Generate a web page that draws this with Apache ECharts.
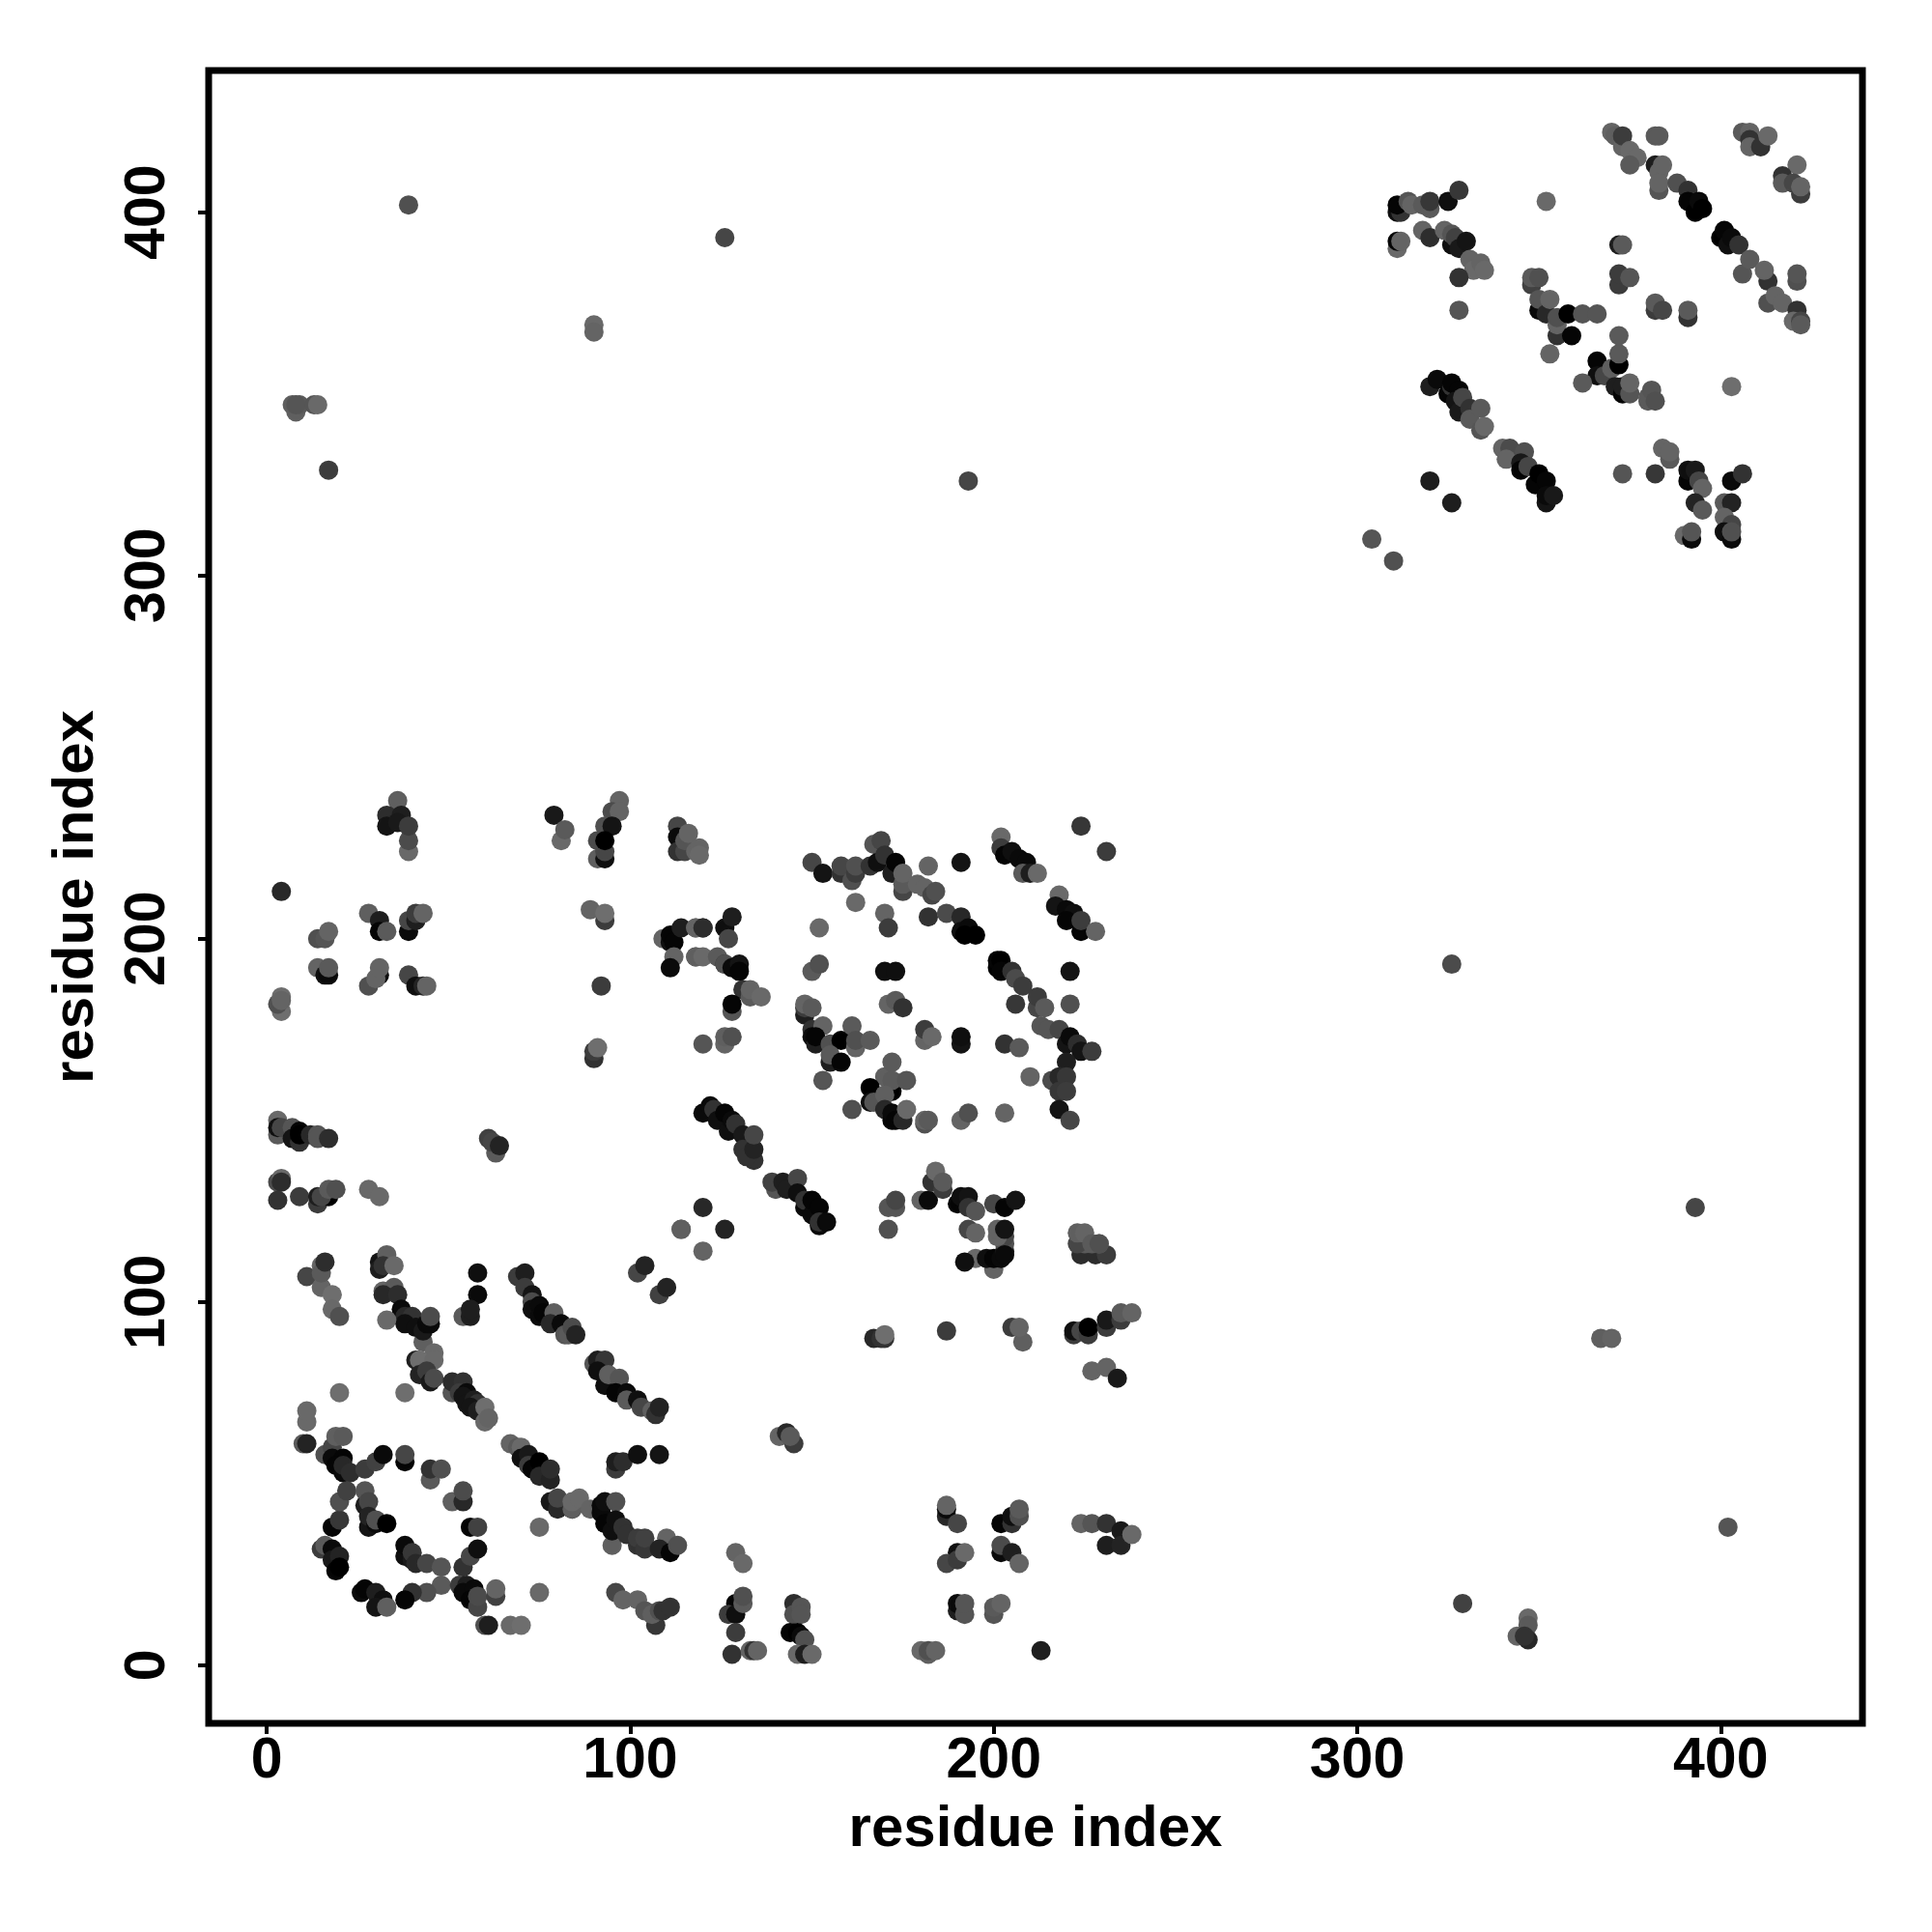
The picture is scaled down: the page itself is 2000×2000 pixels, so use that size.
<!DOCTYPE html>
<html><head><meta charset="utf-8">
<script src="https://cdn.jsdelivr.net/npm/echarts@6/dist/echarts.min.js"></script>
<style>html,body{margin:0;background:#fff}#c{width:2000px;height:2000px}</style></head>
<body><div id="c"></div>
<script>
// each contact: [residue index, residue index, grey level]
const tickValues=[0,100,200,300,400];
const axisTitle="residue index";
const lowLeftA=[[11,107,70],[15,104,100],[18,102,110],[18,98,105],[20,96,80],[15,110,100],[15,108,90],[16,111,45],
[31,111,20],[31,109,30],[33,113,95],[32,110,50],[35,110,105],[32,103,100],[35,104,90],[32,102,40],[36,102,45],[37,96,10],[37,98,10],[38,96,40],[40,96,50],[38,94,15],[41,93,15],[43,89,95],[43,92,25],[44,94,10],[45,94,10],[45,96,75],[33,95,105],
[46,86,105],[41,84,30],[42,84,110],[46,84,105],[42,80,35],[44,81,60],[45,78,25],[46,79,75],
[51,75,85],[51,78,45],[54,78,50],[53,75,60],[55,75,10],[54,74,20],[55,72,20],[57,73,30],[58,72,50],[56,71,20],[58,70,30],[60,67,105],[60,71,110],[61,68,100],
[20,75,110],[38,75,110],[11,67,105],[11,70,105],[10,61,90],[11,61,35]];
const lowLeftB=[[16,58,80],[18,60,70],[19,63,95],[21,63,90],[18,57,10],[21,57,5],[19,55,5],[21,53,10],[21,55,40],[23,53,45],[27,54,60],[30,56,65],[32,58,10],
[38,56,5],[38,58,70],[45,51,90],[45,54,50],[48,54,80],[51,45,95],[54,45,40],[54,48,75],
[18,38,5],[20,40,55],[20,45,80],[22,48,65],[27,44,30],[27,48,85],[28,45,70],[28,38,20],[28,41,35],[30,39,10],[30,40,80],[33,39,0],
[56,38,5],[58,38,65],[75,38,105],[54,27,50],[56,30,70],[58,32,15],
[15,32,60],[16,33,90],[18,32,10],[18,29,25],[20,30,35],[19,26,5],[20,27,0],
[38,30,15],[38,33,10],[40,29,25],[40,31,55],[41,28,40],[44,28,70],[48,27,85],
[48,22,90],[44,20,80],[40,20,50],[38,18,5],[53,22,60],[55,22,30],[54,20,10],[57,21,10],[56,18,5],[58,16,70],[58,19,75],[63,19,65],[63,21,100],
[26,20,10],[27,21,5],[30,20,30],[32,18,15],[30,16,20],[33,16,95],[60,11,80],[61,11,30],[67,11,105],[70,11,110],[75,20,105],
[96,20,70],[98,18,100],[102,18,100],[104,15,85],[107,11,55],[106,14,95],[108,15,80],[109,15,50],[111,16,50]];
const lowDiagonals=[[69,107,60],[71,108,30],[71,104,60],[73,102,20],[73,100,75],[73,98,15],[75,99,10],[75,96,10],[76,97,5],[79,97,95],[78,94,40],[81,94,10],[82,91,85],[83,91,90],[84,93,75],[85,91,35],
[58,108,15],[58,102,10],[54,96,90],[56,96,30],[56,98,30],[102,108,70],[104,110,35],[108,102,65],[110,104,35],
[90,83,85],[91,84,30],[93,84,55],[91,81,15],[93,77,15],[94,80,95],[97,79,85],[96,75,5],[99,75,10],[99,73,90],[102,73,15],[103,71,70],[106,70,95],[107,69,50],[108,71,35],
[67,61,100],[69,60,90],[70,60,105],[70,57,15],[72,58,25],[72,55,60],[73,54,5],[75,56,0],[75,52,40],[78,51,35],[78,54,45],
[78,45,25],[80,43,40],[80,46,70],[84,43,25],[84,43,95],[84,45,105],[86,46,105],[89,43,100],
[92,42,10],[92,44,10],[93,39,5],[93,45,15],[95,33,95],[96,45,80],[95,37,15],[96,40,15],[98,38,50],[99,36,50],[102,33,50],[102,35,60],[104,32,55],[104,35,65],
[110,35,100],[108,32,35],[111,31,5],[113,33,80],[96,54,60],[96,56,30],[98,56,45],[102,58,15],[108,58,20]];
const leftColumn=[[36,238,95],[33,234,45],[37,234,30],[33,231,20],[36,232,25],[39,224,105],[39,227,75],[39,231,60],[4,213,40],
[28,207,95],[31,205,30],[31,202,5],[33,202,90],[39,202,10],[39,205,70],[41,205,30],[41,207,60],[43,207,100],
[14,200,80],[16,200,85],[17,202,100],[14,192,100],[16,190,15],[17,190,10],[17,192,90],
[28,187,80],[31,190,15],[30,189,100],[31,192,100],[39,190,70],[41,187,15],[43,187,35],[44,187,100],
[4,180,110],[3,182,80],[4,184,110],[4,183,100],
[79,234,25],[81,227,105],[82,230,90],[97,238,100],[95,235,75],[97,235,100],[93,231,80],[95,231,20],[91,222,95],[93,222,15],[93,224,70],[91,227,75],[93,227,0],
[89,208,100],[93,205,60],[93,207,110],[92,187,60],[90,167,50],[90,169,60],[91,170,110],
[113,231,70],[113,228,10],[113,224,50],[115,224,70],[115,227,85],[116,229,100],[118,224,100],[119,225,100],[119,223,105],
[109,200,100],[111,199,15],[111,201,5],[112,199,5],[114,203,30],[118,203,100],[120,203,30],[112,195,100],[111,192,10],[118,195,85],[114,120,100],
[3,150,105],[3,146,90],[3,148,15],[4,148,70],[7,148,85],[7,145,20],[9,144,50],[9,147,5],[9,146,0],[12,146,40],[14,146,85],[14,145,85],[17,145,45],
[63,141,90],[61,145,65],[62,144,70],[64,143,35],
[3,133,75],[4,134,105],[4,133,45],[3,128,50],[9,129,60],[14,127,60],[14,129,30],[17,129,0],[15,129,70],[17,131,90],[19,131,80],[28,131,105],[31,129,105]];
const midLower=[[120,114,100],[195,112,105],[192,111,15],[200,109,100],[198,112,15],[200,112,5],[202,112,10],[203,114,25],[203,116,80],[203,118,70],
[224,113,45],[228,113,45],[231,113,60],[229,116,100],[225,116,90],
[167,90,40],[169,90,50],[170,90,50],[170,91,110],[187,92,60],[205,93,60],[208,89,95],[207,93,100],
[222,91,60],[222,92,15],[224,92,70],[226,91,60],[226,93,0],[231,93,60],[231,95,25],[235,95,60],[235,97,90],[238,97,100],[227,81,100],[231,82,100],[234,79,25],
[141,63,100],[143,64,40],[145,61,60],[144,63,90],
[187,41,40],[187,43,10],[187,44,100],[190,39,70],[202,39,5],[205,39,50],[205,41,15],[207,41,80],[207,43,90],
[190,31,15],[187,28,70],[190,29,60],[192,31,105],[202,31,10],[202,33,75],[205,31,30],[207,28,100],
[224,39,100],[227,39,85],[231,39,50],[231,33,30],[235,37,25],[235,33,35],[238,36,105],[129,31,100],[131,28,105],
[129,17,5],[127,14,60],[129,14,15],[131,17,90],[131,19,80],[129,9,60],[128,3,50],[133,4,100],[134,4,50],[135,4,100],
[145,17,45],[145,14,80],[147,16,85],[147,14,85],[144,9,5],[146,9,0],[147,8,10],[148,7,80],[146,3,105],[148,3,30],[150,3,105],
[180,4,105],[182,3,95],[182,4,80],[184,4,100],[213,4,30],
[190,15,30],[190,17,10],[192,14,85],[192,17,85],[200,14,85],[200,16,90],[202,17,100]];
const midRing=[[150,221,70],[153,218,20],[158,218,50],[158,220,70],[161,216,80],[162,218,60],[162,220,80],[166,220,50],[167,226,85],[169,227,70],[168,221,15],[170,223,50],[172,218,30],[173,221,5],[175,213,70],[175,215,90],[175,218,100],[179,215,100],[181,214,100],[183,212,70],[184,213,80],[182,220,100],[191,221,20],
[162,210,105],[170,207,100],[171,203,60],[152,203,105],[182,206,50],[187,207,75],[191,206,40],[191,202,15],[193,203,10],[192,201,0],[195,201,0],
[202,228,105],[202,225,60],[203,223,5],[205,224,15],[207,222,10],[209,221,10],[208,218,90],[210,218,30],[212,218,105],[224,231,55],[231,224,60],
[218,212,105],[217,209,20],[220,208,10],[222,207,15],[220,205,5],[224,202,5],[224,205,60],[228,202,100],
[118,203,100],[120,203,45],[126,203,15],[128,206,30],[127,200,70],[118,195,95],[120,195,105],[124,195,90],[126,193,50],[126,193,80],[128,192,10],[130,193,20],[130,191,5],[131,186,50],[133,184,90],[133,186,100],[136,184,105],[128,180,85],[128,182,5],
[120,171,85],[126,171,100],[126,173,95],[128,173,80],
[150,191,90],[152,193,80],[170,191,15],[173,191,15],[221,191,20],[221,182,80],
[201,192,0],[201,194,5],[202,194,0],[202,191,5],[205,191,50],[206,189,75],[208,187,60],[206,182,55],
[212,181,70],[212,184,60],[214,181,90],[213,176,85],[215,175,85],[218,175,70],[220,171,20],[221,173,10],[223,171,45],[224,169,20],[227,169,60],[220,166,30],
[203,171,50],[207,170,90],[210,162,100],[216,161,75],[218,162,40],[218,158,55],[220,162,55],[220,158,60],[218,153,20],[221,150,70],
[203,152,100],[191,150,100],[193,152,80],[181,172,100],[181,175,60],[183,173,105],[191,171,20],[191,173,15],
[171,182,100],[173,183,90],[175,181,50],[148,179,30],[148,181,60],[148,182,100],[150,181,90],
[150,175,50],[150,173,10],[153,176,100],[151,171,30],[151,173,5],[155,171,80],[158,172,0],[161,176,90],[162,170,100],[162,172,80],[166,172,90],[155,166,30],[155,168,90],[158,166,5],[153,161,85],
[170,162,95],[166,159,0],[172,166,90],[172,158,0],[172,161,90],[176,161,85],[161,153,80],[166,155,15],[167,155,85],[170,157,95],
[170,153,40],[172,150,5],[172,152,10],[173,150,5],[175,150,40],[176,153,105],[181,149,80],[181,150,100],[182,150,90]];
const midDiagonal=[[120,152,10],[122,154,10],[123,153,50],[124,150,15],[126,152,5],[127,147,15],[128,150,10],[129,149,50],[131,146,25],[131,142,50],[134,139,50],[132,140,50],[134,142,35],[134,146,70],
[140,131,85],[139,133,65],[142,133,30],[143,131,30],[146,134,70],[146,130,15],[148,126,10],[148,128,50],[150,124,10],[150,128,5],[152,121,10],[152,126,5],[152,122,50],[154,122,10],
[120,126,40],[114,120,95],[126,120,35],
[171,120,80],[171,126,85],[173,126,85],[173,128,70],[180,128,100],[182,128,10],
[183,133,50],[184,136,105],[186,131,60],[186,133,90],[190,127,5],[191,129,15],[193,129,20],[193,126,50],[195,125,85],[193,120,70],[195,119,100],
[200,127,70],[203,126,5],[206,128,20],[201,118,100],[201,120,100],[203,120,20],[203,113,10],
[223,116,70],[223,119,95],[225,119,100],[227,116,90],[229,116,80]];
const upperRight=[[304,310,85],[310,304,80],[320,326,30],[326,320,30],
[320,352,30],[322,354,10],[325,350,5],[326,352,50],[326,353,5],[328,351,5],[327,348,20],[328,345,25],[329,349,70],[331,346,50],[331,343,90],[334,346,90],[334,340,85],[335,341,105],
[340,335,100],[342,335,75],[341,332,100],[346,334,80],[345,331,25],[345,329,5],[347,330,70],[349,325,5],[350,328,0],[352,320,20],[352,326,5],[352,322,10],[354,322,25],
[311,400,15],[312,400,50],[311,402,5],[314,403,85],[315,402,100],[318,402,90],[320,401,90],[320,403,55],[325,403,15],[328,406,55],
[311,390,105],[311,392,5],[312,392,100],[318,395,100],[320,393,45],[324,395,100],[326,391,15],[326,394,85],[327,393,65],[328,390,25],[330,392,20],
[331,387,100],[332,384,105],[334,386,100],[335,384,105],[328,382,50],[328,373,85],[352,403,105],
[348,380,65],[348,382,90],[350,382,80],[350,373,10],[350,376,85],[352,372,40],[353,376,100],[355,366,50],[355,369,100],[355,371,80],[358,372,0],[359,366,5],[362,372,85],[366,372,85],[353,361,100],
[366,359,5],[366,355,15],[368,355,70],[370,357,95],[372,358,0],[372,361,90],[372,366,90],[362,353,90],[371,352,30],[373,350,5],[373,352,30],[375,350,85],[375,353,100],
[380,348,90],[380,349,90],[381,351,85],[382,348,80],[403,352,110],[372,391,30],[373,391,90],
[372,380,60],[372,383,60],[375,382,85],[382,373,60],[382,375,90],[384,373,70],[391,371,50],[391,373,90]];
const upperDiagonal=[[370,422,100],[371,421,95],[373,418,100],[373,421,60],[375,417,105],[377,415,105],[375,413,90],[382,421,90],[383,421,90],
[382,413,30],[383,411,100],[384,413,100],[383,406,85],[383,408,100],[388,408,80],[391,406,50],[391,403,5],[393,400,0],[394,403,10],[395,401,0],
[400,393,0],[401,395,5],[402,391,15],[403,393,10],[405,391,50],[406,383,85],[408,387,90],[413,381,50],[412,384,100],[413,375,80],[415,377,100],[417,375,100],[421,373,50],[420,370,105],[422,370,70],[422,369,90],
[421,381,80],[421,383,85],[406,422,90],[408,422,100],[408,420,50],[408,418,100],[411,418,50],[413,421,105],
[421,413,105],[417,410,50],[417,408,90],[420,408,70],[422,405,60],[422,407,100],
[384,335,100],[386,332,90],[386,334,100],[373,328,85],[382,328,55],[391,326,5],[391,329,15],[393,329,25],[394,326,70],[395,324,100],[403,326,10],[406,328,50],
[393,320,35],[395,318,90],[401,320,90],[403,320,35],[401,316,100],[403,314,70],[401,312,90],[401,312,15],[403,310,10],[403,312,80],[390,311,105],[392,310,10],[392,312,85]];
const isolated=[[39,402,80],[126,393,70],[90,369,105],[90,367,100],[7,347,95],[8,345,95],[9,347,90],[8,347,85],[13,347,85],[14,347,105],[17,329,60],[193,326,70],
[326,193,75],[393,126,70],[367,90,95],[370,90,100],[402,38,85],[329,17,65],[344,8,100],[347,13,105],[347,11,90],[347,7,40],[346,8,50]];

const contacts=[].concat(lowLeftA,lowLeftB,lowDiagonals,leftColumn,midLower,midRing,midDiagonal,upperRight,upperDiagonal,isolated);
const font={fontFamily:'"Liberation Sans"',fontWeight:'bold',color:'#000'};
const axisCommon={type:'value',min:-16,max:439,name:axisTitle,nameLocation:'middle',
  nameTextStyle:{...font,fontSize:60},splitLine:{show:false},
  axisLine:{show:true,onZero:false,lineStyle:{color:'#000',width:6}},
  axisTick:{show:true,length:11,inside:false,lineStyle:{color:'#000',width:4},customValues:tickValues}};
const chart=echarts.init(document.getElementById('c'),null,{renderer:'canvas'});
chart.setOption({animation:false,backgroundColor:'#fff',
  grid:{show:true,left:216,top:73,width:1712,height:1711,borderColor:'#000',borderWidth:7,backgroundColor:'transparent',containLabel:false},
  xAxis:{...axisCommon,nameGap:80,axisLabel:{...font,fontSize:59,margin:10,customValues:tickValues}},
  yAxis:{...axisCommon,nameGap:107,axisLabel:{...font,fontSize:59,rotate:90,margin:33,customValues:tickValues}},
  series:[{type:'scatter',symbol:'circle',symbolSize:20,clip:false,large:false,progressive:0,
    data:contacts,encode:{x:0,y:1},
    itemStyle:{opacity:1,color:p=>{const g=p.value[2];return 'rgb('+g+','+g+','+g+')';}}}]});
</script></body></html>
